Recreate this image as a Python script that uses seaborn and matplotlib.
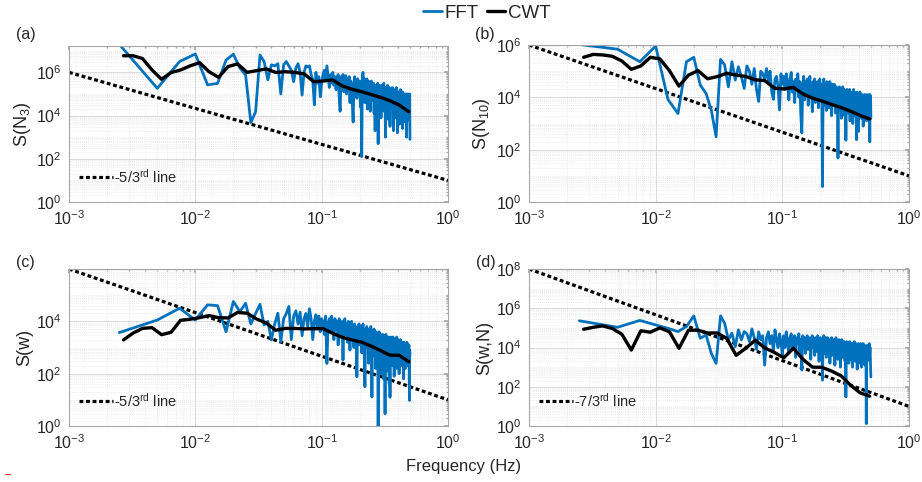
import numpy as np
import pandas as pd
import matplotlib
matplotlib.use("Agg")
import matplotlib.pyplot as plt
import seaborn as sns
from matplotlib.ticker import LogLocator, NullFormatter, FixedLocator

# ---------------- data ----------------
fft_freq = [
    0.0025, 0.005, 0.0075, 0.01, 0.0125, 0.015, 0.0175, 0.02, 0.0225, 0.025,
    0.0275, 0.03, 0.0325, 0.035, 0.0375, 0.04, 0.0425, 0.045, 0.0475, 0.05,
    0.0525, 0.055, 0.0575, 0.06, 0.0625, 0.065, 0.0675, 0.07, 0.0725, 0.075,
    0.0775, 0.08, 0.0825, 0.085, 0.0875, 0.09, 0.0925, 0.095, 0.0975, 0.1,
    0.1025, 0.105, 0.1075, 0.11, 0.1125, 0.115, 0.1175, 0.12, 0.1225, 0.125,
    0.1275, 0.13, 0.1325, 0.135, 0.1375, 0.14, 0.1425, 0.145, 0.1475, 0.15,
    0.1525, 0.155, 0.1575, 0.16, 0.1625, 0.165, 0.1675, 0.17, 0.1725, 0.175,
    0.1775, 0.18, 0.1825, 0.185, 0.1875, 0.19, 0.1925, 0.195, 0.1975, 0.2,
    0.2025, 0.205, 0.2075, 0.21, 0.2125, 0.215, 0.2175, 0.22, 0.2225, 0.225,
    0.2275, 0.23, 0.2325, 0.235, 0.2375, 0.24, 0.2425, 0.245, 0.2475, 0.25,
    0.2525, 0.255, 0.2575, 0.26, 0.2625, 0.265, 0.2675, 0.27, 0.2725, 0.275,
    0.2775, 0.28, 0.2825, 0.285, 0.2875, 0.29, 0.2925, 0.295, 0.2975, 0.3,
    0.3025, 0.305, 0.3075, 0.31, 0.3125, 0.315, 0.3175, 0.32, 0.3225, 0.325,
    0.3275, 0.33, 0.3325, 0.335, 0.3375, 0.34, 0.3425, 0.345, 0.3475, 0.35,
    0.3525, 0.355, 0.3575, 0.36, 0.3625, 0.365, 0.3675, 0.37, 0.3725, 0.375,
    0.3775, 0.38, 0.3825, 0.385, 0.3875, 0.39, 0.3925, 0.395, 0.3975, 0.4,
    0.4025, 0.405, 0.4075, 0.41, 0.4125, 0.415, 0.4175, 0.42, 0.4225, 0.425,
    0.4275, 0.43, 0.4325, 0.435, 0.4375, 0.44, 0.4425, 0.445, 0.4475, 0.45,
    0.4525, 0.455, 0.4575, 0.46, 0.4625, 0.465, 0.4675, 0.47, 0.4725, 0.475,
    0.4775, 0.48, 0.4825, 0.485, 0.4875, 0.49, 0.4925, 0.495, 0.4975, 0.5,
]

cwt_freq = [
    0.0027, 0.003211, 0.003818, 0.004541, 0.0054, 0.006422, 0.007637, 0.009082,
    0.0108, 0.012843, 0.015274, 0.018164, 0.0216, 0.025687, 0.030547, 0.036327,
    0.0432, 0.051373, 0.061094, 0.072654, 0.0864, 0.102746, 0.122188, 0.145308,
    0.1728, 0.205492, 0.244375, 0.290616, 0.3456, 0.410984, 0.48875,
]

# spectral levels, stored as log10 of the power
fft_a_log10 = [
    7.3, 5.26, 6.5, 6.85, 5.42, 5.49, 6.57, 6.84, 6.2, 5.88,
    3.67, 4.18, 6.8, 6.5, 5.65, 6.35, 6.3, 6.4, 5.0, 6.35,
    6.5, 6.3, 6.1, 5.57, 6.2, 6.4, 6.0, 4.95, 6.0, 6.3,
    6.25, 6.3, 5.9, 5.65, 4.5, 6.0, 5.5, 5.8, 4.87, 5.5,
    5.9, 6.1, 5.6, 6.3, 5.8, 5.3, 5.9, 5.5, 6.0, 5.4,
    5.8, 5.2, 5.7, 5.9, 4.9, 4.2, 5.8, 5.5, 5.9, 5.1,
    5.6, 5.85, 5.0, 5.7, 5.3, 5.8, 4.6, 5.6, 5.2, 4.5,
    3.7, 5.5, 5.8, 5.1, 5.6, 4.8, 5.7, 5.3, 5.0, 5.6,
    4.4, 5.2, 2.1, 5.85, 6.0, 5.4, 5.7, 4.6, 5.5, 5.1,
    5.7, 4.3, 5.4, 5.6, 4.9, 5.5, 4.2, 5.3, 5.6, 4.7,
    5.4, 5.0, 5.5, 4.1, 5.2, 3.3, 5.4, 4.8, 5.3, 4.5,
    5.5, 2.7, 5.0, 5.4, 4.6, 5.3, 4.9, 3.9, 5.4, 5.1,
    4.4, 5.3, 5.0, 5.5, 4.2, 5.2, 4.8, 3.0, 5.3, 4.9,
    5.2, 4.5, 5.4, 4.7, 5.0, 3.8, 5.3, 4.9, 3.5, 5.1,
    4.6, 5.2, 4.3, 5.0, 5.3, 4.4, 4.9, 3.3, 5.1, 4.6,
    5.2, 4.8, 3.9, 5.0, 4.5, 5.3, 4.2, 4.9, 3.2, 5.0,
    4.7, 5.1, 4.4, 4.9, 3.6, 5.0, 4.6, 5.2, 4.3, 4.8,
    4.0, 5.0, 4.5, 5.1, 3.4, 4.9, 4.6, 5.0, 4.1, 4.7,
    5.0, 4.3, 4.8, 3.7, 5.0, 4.5, 4.9, 3.0, 4.6, 5.0,
    4.2, 4.8, 4.4, 5.0, 3.8, 4.7, 4.9, 4.2, 5.0, 2.9,
]
cwt_a_log10 = [
    6.77, 6.77, 6.64, 6.11, 5.68, 5.99, 6.11, 6.30, 6.45, 6.03, 5.77,
    6.27, 6.39, 6.0, 6.08, 6.16, 6.0, 6.03, 6.0, 5.93, 5.57, 5.6,
    5.65, 5.37, 5.22, 5.11, 4.98, 4.85, 4.69, 4.49, 4.18,
]

fft_b_log10 = [
    6.02, 5.84, 5.36, 5.96, 3.92, 3.38, 5.36, 5.53, 4.47, 4.15,
    3.51, 2.49, 5.45, 5.24, 4.4, 5.36, 4.66, 5.17, 4.79, 4.34,
    5.2, 5.0, 4.5, 5.1, 4.3, 3.84, 5.0, 4.9, 4.7, 5.1,
    4.63, 5.0, 4.2, 3.92, 4.7, 4.8, 4.4, 3.52, 4.9, 4.5,
    4.8, 4.3, 4.9, 4.5, 3.9, 4.7, 4.95, 4.2, 4.6, 3.8,
    4.7, 4.4, 4.9, 4.0, 4.6, 3.3, 2.64, 4.5, 4.8, 3.9,
    4.6, 4.2, 4.7, 3.7, 4.5, 4.8, 4.0, 4.4, 3.45, 4.6,
    4.3, 4.7, 3.8, 4.5, 4.2, 4.6, 3.6, 4.4, 4.7, 4.0,
    4.5, 3.9, 0.59, 4.5, 4.7, 3.7, 4.4, 4.2, 3.5, 4.6,
    4.1, 4.5, 3.6, 4.3, 4.6, 3.9, 4.2, 3.3, 4.5, 4.0,
    4.4, 3.7, 4.5, 4.1, 3.4, 4.3, 4.4, 3.8, 4.2, 1.68,
    4.3, 3.9, 4.4, 3.5, 4.2, 4.0, 3.2, 4.3, 3.8, 4.4,
    3.6, 4.1, 4.3, 3.3, 4.0, 4.2, 2.36, 4.1, 3.7, 4.3,
    3.9, 3.4, 4.2, 4.0, 3.6, 4.3, 3.1, 4.0, 4.2, 3.5,
    4.1, 3.8, 4.2, 3.0, 4.0, 4.3, 3.7, 3.9, 4.2, 3.3,
    4.0, 3.6, 4.1, 2.38, 3.9, 4.2, 3.5, 4.0, 3.8, 2.7,
    4.1, 3.7, 3.9, 4.2, 3.4, 3.8, 4.1, 3.2, 4.0, 3.6,
    4.1, 3.5, 3.9, 2.9, 4.0, 3.7, 4.1, 3.3, 3.9, 3.6,
    4.1, 3.4, 3.8, 4.0, 3.1, 3.9, 4.1, 3.5, 3.7, 4.0,
    3.3, 3.9, 4.1, 3.6, 3.8, 2.3, 4.1, 3.4, 4.0, 3.2,
]
cwt_b_log10 = [
    5.53, 5.64, 5.62, 5.57, 5.39, 5.07, 5.2, 5.53, 5.47, 5.02, 4.43,
    4.85, 5.02, 4.71, 4.79, 4.92, 4.85, 4.8, 4.67, 4.64, 4.35, 4.32,
    4.38, 4.13, 3.97, 3.86, 3.73, 3.61, 3.47, 3.31, 3.17,
]

fft_c_log10 = [
    3.57, 4.05, 4.5, 4.05, 4.63, 4.6, 3.6, 4.76, 4.37, 4.69,
    3.9, 4.3, 4.65, 3.86, 4.0, 3.29, 3.9, 4.31, 3.22, 4.1,
    4.3, 4.57, 3.3, 4.2, 4.4, 3.9, 4.35, 3.45, 4.1, 4.3,
    3.8, 4.48, 4.1, 3.3, 4.0, 4.25, 3.7, 4.2, 3.6, 4.1,
    4.0, 3.5, 4.2, 2.39, 3.9, 4.1, 3.6, 4.2, 3.8, 3.3,
    4.1, 3.7, 4.0, 3.1, 4.1, 3.8, 3.4, 4.0, 2.52, 3.9,
    4.1, 3.5, 3.9, 3.2, 4.0, 3.7, 2.9, 3.9, 4.0, 3.4,
    3.8, 3.0, 3.9, 3.6, 3.2, 1.88, 3.8, 3.5, 3.9, 3.1,
    3.7, 3.8, 2.8, 3.6, 3.9, 3.3, 2.6, 1.5, 3.7, 3.4,
    3.8, 3.0, 3.6, 2.4, 3.7, 3.5, 2.9, 3.8, 3.2, 1.11,
    3.6, 3.4, 2.7, 3.7, 3.1, 3.5, 2.2, 3.6, 3.3, 2.8,
    3.5, -0.1, 3.4, 3.6, 2.5, 3.3, 3.5, 2.0, 3.4, 3.1,
    2.6, 3.5, 3.2, 1.8, 3.4, 3.0, 0.47, 3.3, 3.5, 2.4,
    3.2, 3.4, 2.1, 3.3, 2.9, 3.4, 1.6, 3.2, 1.1, 3.3,
    3.4, 2.7, 3.1, 3.3, 2.3, 3.2, 3.4, 2.8, 3.1, 1.9,
    3.3, 3.0, 2.5, 3.3, 3.1, 2.2, 3.4, 2.9, 3.2, 2.6,
    3.3, 2.8, 3.1, 2.0, 3.2, 3.0, 2.6, 3.3, 2.4, 3.1,
    3.2, 2.7, 3.0, 2.3, 3.2, 2.9, 3.1, 1.8, 3.0, 3.2,
    2.5, 3.1, 2.9, 2.2, 3.1, 2.8, 3.0, 2.4, 3.2, 2.7,
    2.9, 3.1, 2.3, 3.0, 2.8, 3.1, 2.6, 0.98, 2.9, 2.7,
]
cwt_c_log10 = [
    3.29, 3.55, 3.73, 3.76, 3.49, 3.58, 4.04, 4.08, 4.14, 4.22, 4.14,
    4.13, 4.34, 4.31, 4.09, 3.94, 3.66, 3.73, 3.73, 3.71, 3.72, 3.72,
    3.54, 3.39, 3.29, 3.21, 3.06, 2.89, 2.71, 2.7, 2.46,
]

fft_d_log10 = [
    5.36, 5.03, 5.38, 5.15, 4.98, 4.81, 5.07, 5.61, 4.47, 4.64,
    3.7, 3.19, 5.61, 5.24, 4.39, 4.73, 4.04, 4.9, 4.39, 4.81,
    4.7, 4.3, 4.95, 4.5, 3.9, 4.8, 4.4, 4.6, 3.1, 4.5,
    4.8, 4.2, 4.6, 3.8, 4.9, 4.4, 4.0, 4.7, 4.3, 3.6,
    4.6, 4.0, 4.8, 4.3, 3.7, 4.5, 4.7, 3.9, 4.4, 4.6,
    3.5, 4.5, 4.2, 4.7, 3.8, 4.4, 2.85, 4.6, 4.1, 4.5,
    3.7, 4.4, 4.6, 3.9, 4.2, 4.5, 3.4, 4.3, 4.6, 4.0,
    4.4, 3.6, 4.5, 4.2, 3.8, 4.6, 4.1, 3.3, 4.4, 4.5,
    3.9, 4.3, 2.34, 4.4, 4.6, 3.7, 4.2, 4.5, 3.5, 4.3,
    4.5, 3.8, 4.2, 4.4, 3.2, 4.3, 4.0, 4.5, 3.6, 4.2,
    4.4, 3.9, 4.3, 3.1, 4.2, 4.5, 3.7, 4.1, 4.3, 3.4,
    4.2, 4.4, 3.8, 4.1, 3.0, 4.3, 4.0, 4.4, 3.5, 4.2,
    4.0, 3.7, 4.3, 4.1, 3.3, 4.2, 1.48, 4.0, 4.3, 3.6,
    4.1, 3.9, 4.2, 3.2, 4.0, 4.3, 3.7, 4.1, 3.4, 4.2,
    3.9, 4.1, 3.0, 4.2, 3.8, 4.0, 3.5, 4.3, 3.9, 3.3,
    4.1, 4.2, 3.6, 3.9, 4.1, 2.9, 4.0, 3.8, 4.2, 3.4,
    4.0, 3.7, 4.1, 3.2, 3.9, 4.2, 3.6, 4.0, 3.0, 4.1,
    3.8, 3.4, 4.0, 4.2, 3.5, 3.9, 3.7, 4.1, 3.1, 3.8,
    4.0, 3.6, 3.9, 0.12, 4.1, 3.7, 3.3, 4.0, 3.8, 3.5,
    4.1, 3.6, 3.9, 4.2, 3.4, 3.8, 4.0, 3.5, 3.2, 2.5,
]
cwt_d_log10 = [
    4.93, 5.03, 5.1, 4.97, 4.68, 3.87, 4.85, 4.78, 5.0, 4.8, 3.96,
    4.88, 4.88, 4.74, 4.74, 4.47, 3.6, 3.96, 4.37, 3.98, 3.75, 3.48,
    3.96, 3.4, 3.0, 2.99, 2.8, 2.56, 2.08, 1.69, 1.52,
]

# reference power-law lines (end points at f = 1e-3 and f = 1)
ref_freq = [1e-3, 1.0]
ref_a = [1e6, 1e1]     # -5/3
ref_b = [1e6, 1e1]     # -5/3
ref_c = [1e6, 1e1]     # -5/3
ref_d = [1e8, 1e1]     # -7/3

ylabels = ["S(N$_3$)", "S(N$_{10}$)", "S(w)", "S(w,N)"]
ref_labels = ["-5/3$^{\\mathrm{rd}}$ line", None, "-5/3$^{\\mathrm{rd}}$ line",
              "-7/3$^{\\mathrm{rd}}$ line"]
panel_tags = ["(a)", "(b)", "(c)", "(d)"]
legend_labels = ["FFT", "CWT"]

# ---------------- style ----------------
sns.set_theme(style="white")
plt.rcParams["font.family"] = ["Liberation Sans", "DejaVu Sans"]
plt.rcParams["mathtext.fontset"] = "custom"
plt.rcParams["mathtext.rm"] = "Liberation Sans"
plt.rcParams["mathtext.it"] = "Liberation Sans:italic"
plt.rcParams["mathtext.bf"] = "Liberation Sans:bold"
plt.rcParams["axes.unicode_minus"] = False

BLUE = "#0072BD"
TXT = "#262626"

fig = plt.figure(figsize=(9.22, 4.82), dpi=100)

W, H = 922.0, 482.0
boxes = [  # left, top, right, bottom in pixels
    (69, 46, 448, 202),
    (529, 45, 909, 202),
    (69, 269, 448, 426),
    (529, 269, 909, 426),
]
ylims = [(1, 10 ** 7.22), (1, 1e6), (1, 1e6), (1, 1e8)]
yticks = [[1e0, 1e2, 1e4, 1e6], [1e0, 1e2, 1e4, 1e6], [1e0, 1e2, 1e4], [1e0, 1e2, 1e4, 1e6, 1e8]]
label_x = [-0.095, -0.097, -0.095, -0.095]

ffts = [fft_a_log10, fft_b_log10, fft_c_log10, fft_d_log10]
cwts = [cwt_a_log10, cwt_b_log10, cwt_c_log10, cwt_d_log10]
refs = [ref_a, ref_b, ref_c, ref_d]

axes = []
for i in range(4):
    l, t, r, b = boxes[i]
    ax = fig.add_axes([l / W, 1 - b / H, (r - l) / W, (b - t) / H])
    axes.append(ax)
    ax.set_xscale("log")
    ax.set_yscale("log")

    df_fft = pd.DataFrame({"f": fft_freq, "S": 10 ** np.array(ffts[i], dtype=float)})
    df_cwt = pd.DataFrame({"f": cwt_freq, "S": 10 ** np.array(cwts[i], dtype=float)})
    df_ref = pd.DataFrame({"f": ref_freq, "S": refs[i]})

    sns.lineplot(data=df_ref, x="f", y="S", ax=ax, color="black", lw=2.3,
                 estimator=None, sort=False, legend=False)
    ax.lines[-1].set_dashes((1.2, 0.85))
    sns.lineplot(data=df_fft, x="f", y="S", ax=ax, color=BLUE, lw=2.0,
                 estimator=None, sort=False, legend=False)
    sns.lineplot(data=df_cwt, x="f", y="S", ax=ax, color="black", lw=2.4,
                 estimator=None, sort=False, legend=False)

    ax.set_xlim(1e-3, 1)
    ax.set_ylim(*ylims[i])
    ax.xaxis.set_major_locator(FixedLocator([1e-3, 1e-2, 1e-1, 1e0]))
    ax.xaxis.set_minor_locator(LogLocator(base=10, subs=np.arange(1, 10), numticks=100))
    ax.xaxis.set_minor_formatter(NullFormatter())
    ax.yaxis.set_major_locator(FixedLocator(yticks[i]))
    ax.yaxis.set_minor_locator(LogLocator(base=10, subs=np.arange(1, 10), numticks=100))
    ax.yaxis.set_minor_formatter(NullFormatter())

    ax.grid(True, which="major", color="#d9d9d9", lw=0.7, ls="-")
    ax.grid(True, which="minor", color="#e6e6e6", lw=0.6, ls=(0, (1, 1.5)))
    ax.set_axisbelow(True)
    for s in ax.spines.values():
        s.set_color("#a6a6a6")
        s.set_linewidth(0.8)
    ax.tick_params(which="both", direction="in", top=True, right=True,
                   colors="#a6a6a6", labelcolor=TXT, labelsize=11.5, pad=5)
    ax.tick_params(which="major", length=3)
    ax.tick_params(which="minor", length=1.5)

    ax.set_xlabel("")
    ax.set_ylabel(ylabels[i], fontsize=13, color=TXT)
    ax.yaxis.set_label_coords(label_x[i], 0.5)

    if ref_labels[i]:
        ax.legend(handles=[ax.lines[0]], labels=[ref_labels[i]], loc="lower left",
                  frameon=False, fontsize=10.5, handlelength=2.3, handletextpad=0.1,
                  borderaxespad=0.3, bbox_to_anchor=(0.0, 0.04))

# panel tags
tag_pos = [(16, 34), (475, 34), (16, 262), (476, 263)]
for tag, (px, py) in zip(panel_tags, tag_pos):
    fig.text(px / W, 1 - py / H, tag, fontsize=11.5, color=TXT, va="center", ha="left")

# shared legend on top
h_fft = axes[0].lines[1]
h_cwt = axes[0].lines[2]
fig.legend(handles=[h_fft, h_cwt], labels=legend_labels, loc="center",
           bbox_to_anchor=(487 / W, 1 - 13 / H), ncol=2, frameon=False,
           fontsize=13.5, handlelength=1.0, handletextpad=0.15, columnspacing=0.4)

# shared x label
fig.text(464 / W, 1 - 467 / H, "Frequency (Hz)", fontsize=12, color=TXT,
         ha="center", va="center")

# small red mark at the lower-left corner of the original figure
fig.text(5 / W, 1 / H, "\u2013", color="#e0202a", fontsize=8, fontweight="bold",
         ha="left", va="bottom")

fig.savefig("out.png", dpi=100)
